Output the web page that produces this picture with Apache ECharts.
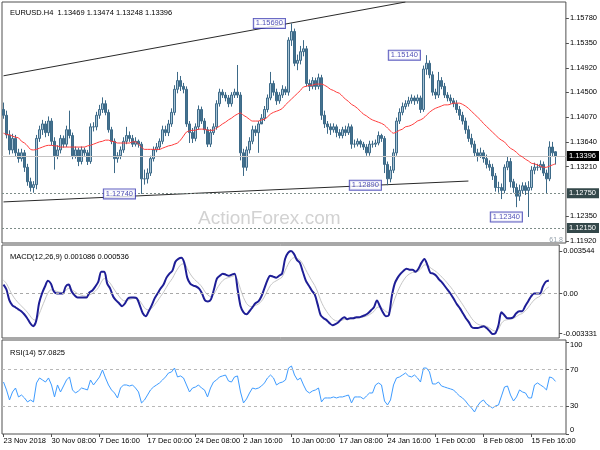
<!DOCTYPE html>
<html><head><meta charset="utf-8">
<script src="https://cdn.jsdelivr.net/npm/echarts@6/dist/echarts.min.js"></script>
<style>html,body{margin:0;padding:0;background:#fff}#c{width:600px;height:450px}</style>
</head><body><div id="c"></div>
<script>
// ---- tick labels ----
const tickLabels = ['23 Nov 2018','30 Nov 08:00','7 Dec 16:00','17 Dec 00:00','24 Dec 08:00','2 Jan 16:00','10 Jan 00:00','17 Jan 08:00','24 Jan 16:00','1 Feb 00:00','8 Feb 08:00','15 Feb 16:00'];
const priceTicks = [1.1578, 1.1535, 1.1492, 1.1450, 1.1407, 1.1364, 1.1321, 1.1235, 1.1192];
const macdTicks = [0.003544, 0, -0.003331];
const rsiTicks = [0, 30, 70, 100];

// ---- EURUSD H4 candles (one candle per two H4 bars) ----
const priceOpen = [
1.1420,1.1410,1.1376,1.1350,1.1370,1.1345,1.1335,1.1345,1.1320,1.1295,1.1285,1.1290,1.1370,1.1385,1.1395,1.1380,
1.1400,1.1365,1.1340,1.1350,1.1370,1.1360,1.1385,1.1375,1.1340,1.1350,1.1330,1.1350,1.1345,1.1330,1.1390,1.1390,
1.1410,1.1420,1.1430,1.1415,1.1385,1.1365,1.1335,1.1340,1.1350,1.1365,1.1375,1.1370,1.1360,1.1365,1.1360,1.1300,
1.1300,1.1310,1.1335,1.1350,1.1355,1.1365,1.1385,1.1380,1.1395,1.1415,1.1455,1.1470,1.1460,1.1455,1.1395,1.1380,
1.1370,1.1390,1.1420,1.1400,1.1385,1.1360,1.1380,1.1390,1.1430,1.1450,1.1445,1.1440,1.1430,1.1445,1.1450,1.1445,
1.1345,1.1320,1.1350,1.1365,1.1385,1.1380,1.1395,1.1405,1.1420,1.1440,1.1465,1.1450,1.1435,1.1445,1.1455,1.1450,
1.1540,1.1555,1.1500,1.1505,1.1520,1.1525,1.1465,1.1460,1.1470,1.1460,1.1475,1.1410,1.1395,1.1390,1.1385,1.1390,
1.1380,1.1375,1.1385,1.1380,1.1390,1.1360,1.1360,1.1365,1.1360,1.1355,1.1345,1.1360,1.1360,1.1362,1.1375,1.1370,
1.1325,1.1300,1.1315,1.1345,1.1400,1.1415,1.1425,1.1430,1.1435,1.1440,1.1435,1.1440,1.1420,1.1490,1.1500,1.1480,
1.1450,1.1445,1.1470,1.1460,1.1445,1.1440,1.1435,1.1430,1.1420,1.1410,1.1400,1.1385,1.1370,1.1360,1.1345,1.1340,
1.1345,1.1335,1.1325,1.1320,1.1305,1.1285,1.1285,1.1280,1.1320,1.1330,1.1295,1.1285,1.1270,1.1280,1.1288,1.1280,
1.1285,1.1315,1.1320,1.1320,1.1325,1.1310,1.1300,1.1355,1.13469];
const priceClose = [
1.1410,1.1376,1.1350,1.1370,1.1345,1.1335,1.1345,1.1320,1.1295,1.1285,1.1290,1.1370,1.1385,1.1395,1.1380,1.1400,
1.1365,1.1340,1.1350,1.1370,1.1360,1.1385,1.1375,1.1340,1.1350,1.1330,1.1350,1.1345,1.1330,1.1390,1.1390,1.1410,
1.1420,1.1430,1.1415,1.1385,1.1365,1.1335,1.1340,1.1350,1.1365,1.1375,1.1370,1.1360,1.1365,1.1360,1.1300,1.1300,
1.1310,1.1335,1.1350,1.1355,1.1365,1.1385,1.1380,1.1395,1.1415,1.1455,1.1470,1.1460,1.1455,1.1395,1.1380,1.1370,
1.1390,1.1420,1.1400,1.1385,1.1360,1.1380,1.1390,1.1430,1.1450,1.1445,1.1440,1.1430,1.1445,1.1450,1.1445,1.1345,
1.1320,1.1350,1.1365,1.1385,1.1380,1.1395,1.1405,1.1420,1.1440,1.1465,1.1450,1.1435,1.1445,1.1455,1.1450,1.1540,
1.1555,1.1500,1.1505,1.1520,1.1525,1.1465,1.1460,1.1470,1.1460,1.1475,1.1410,1.1395,1.1390,1.1385,1.1390,1.1380,
1.1375,1.1385,1.1380,1.1390,1.1360,1.1360,1.1365,1.1360,1.1355,1.1345,1.1360,1.1360,1.1362,1.1375,1.1370,1.1325,
1.1300,1.1315,1.1345,1.1400,1.1415,1.1425,1.1430,1.1435,1.1440,1.1435,1.1440,1.1420,1.1490,1.1500,1.1480,1.1450,
1.1445,1.1470,1.1460,1.1445,1.1440,1.1435,1.1430,1.1420,1.1410,1.1400,1.1385,1.1370,1.1360,1.1345,1.1340,1.1345,
1.1335,1.1325,1.1320,1.1305,1.1285,1.1285,1.1280,1.1320,1.1330,1.1295,1.1285,1.1270,1.1280,1.1288,1.1280,1.1285,
1.1315,1.1320,1.1320,1.1325,1.1310,1.1300,1.1355,1.1345,1.13396];
const priceLow = [
1.1404,1.1370,1.1342,1.1344,1.1338,1.1328,1.1330,1.1312,1.1288,1.1278,1.1276,1.1282,1.1364,1.1376,1.1372,1.1374,
1.1358,1.1316,1.1334,1.1344,1.1354,1.1355,1.1370,1.1334,1.1335,1.1322,1.1325,1.1340,1.1324,1.1326,1.1382,1.1384,
1.1404,1.1414,1.1410,1.1380,1.1360,1.1310,1.1328,1.1334,1.1345,1.1360,1.1364,1.1355,1.1356,1.1354,1.1274,1.1290,
1.1292,1.1305,1.1330,1.1346,1.1350,1.1360,1.1374,1.1374,1.1390,1.1410,1.1448,1.1452,1.1448,1.1390,1.1362,1.1362,
1.1365,1.1385,1.1395,1.1378,1.1355,1.1355,1.1376,1.1385,1.1425,1.1440,1.1434,1.1424,1.1425,1.1440,1.1440,1.1332,
1.1305,1.1314,1.1344,1.1360,1.1374,1.1345,1.1398,1.1400,1.1415,1.1436,1.1444,1.1428,1.1430,1.1440,1.1445,1.1444,
1.1530,1.1495,1.1488,1.1498,1.1512,1.1460,1.1452,1.1455,1.1454,1.1455,1.1402,1.1388,1.1378,1.1376,1.1380,1.1372,
1.1370,1.1370,1.1374,1.1376,1.1352,1.1354,1.1356,1.1354,1.1350,1.1340,1.1340,1.1354,1.1355,1.1358,1.1364,1.1310,
1.1289,1.1294,1.1310,1.1340,1.1395,1.1410,1.1420,1.1425,1.1430,1.1428,1.1430,1.1414,1.1416,1.1480,1.1474,1.1444,
1.1438,1.1440,1.1455,1.1440,1.1434,1.1430,1.1424,1.1414,1.1402,1.1394,1.1378,1.1364,1.1354,1.1338,1.1330,1.1336,
1.1328,1.1318,1.1314,1.1298,1.1278,1.1276,1.1265,1.1275,1.1315,1.1285,1.1276,1.1251,1.1262,1.1275,1.1272,1.1234,
1.1280,1.1308,1.1314,1.1315,1.1305,1.1275,1.1296,1.1338,1.13248];
const priceHigh = [
1.1432,1.1418,1.1384,1.1378,1.1376,1.1352,1.1352,1.1350,1.1326,1.1302,1.1296,1.1376,1.1392,1.1402,1.1400,1.1408,
1.1405,1.1372,1.1358,1.1376,1.1375,1.1392,1.1418,1.1380,1.1356,1.1354,1.1356,1.1354,1.1350,1.1396,1.1398,1.1416,
1.1428,1.1441,1.1436,1.1420,1.1390,1.1370,1.1346,1.1356,1.1372,1.1390,1.1382,1.1376,1.1372,1.1368,1.1364,1.1316,
1.1318,1.1340,1.1356,1.1362,1.1370,1.1392,1.1392,1.1402,1.1422,1.1462,1.1485,1.1478,1.1466,1.1460,1.1400,1.1388,
1.1396,1.1427,1.1425,1.1405,1.1390,1.1386,1.1396,1.1436,1.1456,1.1455,1.1450,1.1445,1.1450,1.1456,1.1497,1.1450,
1.1352,1.1356,1.1372,1.1392,1.1392,1.1400,1.1412,1.1426,1.1446,1.1485,1.1470,1.1456,1.1450,1.1462,1.1460,1.1545,
1.1569,1.1560,1.1515,1.1530,1.1540,1.1530,1.1472,1.1476,1.1475,1.1482,1.1480,1.1418,1.1400,1.1396,1.1396,1.1394,
1.1386,1.1390,1.1392,1.1396,1.1394,1.1368,1.1370,1.1368,1.1364,1.1360,1.1366,1.1366,1.1368,1.1382,1.1378,1.1374,
1.1330,1.1322,1.1352,1.1406,1.1422,1.1432,1.1436,1.1442,1.1446,1.1444,1.1446,1.1444,1.1496,1.1514,1.1505,1.1486,
1.1456,1.1485,1.1476,1.1466,1.1450,1.1446,1.1440,1.1436,1.1426,1.1416,1.1406,1.1392,1.1378,1.1366,1.1352,1.1354,
1.1350,1.1342,1.1332,1.1326,1.1310,1.1295,1.1292,1.1325,1.1338,1.1336,1.1300,1.1292,1.1290,1.1294,1.1294,1.1296,
1.1322,1.1328,1.1326,1.1332,1.1330,1.1316,1.1365,1.1364,1.13474];
// moving average (red)
const maValues = [
1.1379,1.1377,1.1376,1.1374,1.1372,1.1371,1.1365,1.1362,1.1357,1.1351,1.1350,1.1351,1.1353,1.1355,1.1357,1.1358,
1.1358,1.1357,1.1357,1.1355,1.1355,1.1355,1.1355,1.1355,1.1355,1.1355,1.1355,1.1355,1.1357,1.1358,1.1360,1.1362,
1.1364,1.1365,1.1367,1.1367,1.1365,1.1364,1.1362,1.1362,1.1362,1.1362,1.1362,1.1364,1.1364,1.1360,1.1355,1.1351,
1.1351,1.1351,1.1351,1.1351,1.1351,1.1353,1.1355,1.1357,1.1358,1.1360,1.1362,1.1367,1.1374,1.1381,1.1383,1.1384,
1.1384,1.1386,1.1386,1.1386,1.1384,1.1384,1.1384,1.1388,1.1391,1.1395,1.1398,1.1402,1.1405,1.1409,1.1412,1.1414,
1.1410,1.1407,1.1403,1.1400,1.1400,1.1400,1.1402,1.1403,1.1407,1.1412,1.1415,1.1417,1.1419,1.1422,1.1428,1.1433,
1.1438,1.1443,1.1448,1.1453,1.1459,1.1460,1.1462,1.1462,1.1464,1.1464,1.1464,1.1462,1.1459,1.1455,1.1453,1.1450,
1.1448,1.1443,1.1438,1.1434,1.1429,1.1426,1.1422,1.1417,1.1412,1.1409,1.1405,1.1402,1.1400,1.1398,1.1396,1.1393,
1.1388,1.1383,1.1379,1.1381,1.1384,1.1386,1.1390,1.1391,1.1393,1.1396,1.1400,1.1402,1.1405,1.1410,1.1415,1.1419,
1.1422,1.1424,1.1426,1.1428,1.1428,1.1429,1.1431,1.1431,1.1431,1.1429,1.1426,1.1422,1.1417,1.1412,1.1407,1.1402,
1.1396,1.1391,1.1386,1.1381,1.1376,1.1371,1.1367,1.1364,1.1358,1.1353,1.1350,1.1346,1.1341,1.1338,1.1334,1.1331,
1.1327,1.1326,1.1324,1.1322,1.1320,1.1320,1.1322,1.1324,1.1326];
// MACD main line
const macdValues = [
0.00074,0.00033,-0.00058,-0.00099,-0.00115,-0.00132,-0.00148,-0.00173,-0.00206,-0.00247,-0.00272,-0.00231,-0.00082,0,0.00058,0.00107,
0.00082,0.00016,0,0,0,0.00058,0.00074,0.00016,-0.00016,-0.00033,-0.00033,-0.00033,-0.00033,0.00008,0.00025,0.00058,
0.00099,0.00181,0.00181,0.00082,0.00041,-0.00025,-0.00058,-0.00082,-0.00107,-0.00082,-0.00041,-0.00033,-0.00033,-0.00041,-0.00099,-0.00165,
-0.00190,-0.00148,-0.00099,-0.00041,0,0.00041,0.00074,0.00132,0.00165,0.00190,0.00264,0.00288,0.00297,0.00255,0.00132,0.00082,
0.00066,0.00058,0.00041,0,-0.00058,-0.00066,-0.00049,0.00033,0.00124,0.00148,0.00165,0.00157,0.00148,0.00157,0.00165,0.00033,
-0.00107,-0.00157,-0.00173,-0.00148,-0.00115,-0.00082,-0.00066,-0.00025,0.00041,0.00107,0.00148,0.00140,0.00132,0.00148,0.00165,0.00288,
0.00338,0.00354,0.00330,0.00280,0.00255,0.00181,0.00107,0.00066,0.00025,-0.00008,-0.00091,-0.00181,-0.00206,-0.00222,-0.00247,-0.00264,
-0.00255,-0.00239,-0.00214,-0.00198,-0.00214,-0.00206,-0.00206,-0.00198,-0.00198,-0.00190,-0.00181,-0.00165,-0.00140,-0.00115,-0.00058,-0.00107,
-0.00157,-0.00190,-0.00181,-0.00025,0.00082,0.00132,0.00165,0.00190,0.00206,0.00198,0.00198,0.00181,0.00206,0.00255,0.00288,0.00239,
0.00173,0.00165,0.00148,0.00115,0.00091,0.00058,0.00025,-0.00008,-0.00049,-0.00091,-0.00124,-0.00165,-0.00206,-0.00239,-0.00280,-0.00288,
-0.00288,-0.00280,-0.00272,-0.00288,-0.00313,-0.00338,-0.00330,-0.00264,-0.00157,-0.00181,-0.00206,-0.00206,-0.00198,-0.00165,-0.00148,-0.00148,
-0.00107,-0.00066,-0.00025,0,0,0,0.00058,0.00099,0.001086];
// MACD signal line
const signalValues = [
0.00110,0.00083,0.00034,-0.00013,-0.00049,-0.00078,-0.00103,-0.00128,-0.00155,-0.00187,-0.00217,-0.00222,-0.00173,-0.00112,-0.00052,0.00004,
0.00031,0.00026,0.00017,0.00011,0.00007,0.00025,0.00042,0.00033,0.00016,-0.00001,-0.00012,-0.00019,-0.00024,-0.00013,0.00000,0.00020,
0.00048,0.00095,0.00125,0.00110,0.00086,0.00047,0.00010,-0.00022,-0.00052,-0.00063,-0.00055,-0.00047,-0.00042,-0.00042,-0.00062,-0.00098,
-0.00130,-0.00136,-0.00123,-0.00094,-0.00061,-0.00025,0.00010,0.00053,0.00092,0.00126,0.00174,0.00214,0.00243,0.00247,0.00207,0.00163,
0.00129,0.00104,0.00082,0.00053,0.00014,-0.00014,-0.00026,-0.00005,0.00040,0.00078,0.00108,0.00125,0.00133,0.00141,0.00149,0.00108,
0.00033,-0.00034,-0.00083,-0.00106,-0.00109,-0.00100,-0.00088,-0.00066,-0.00029,0.00019,0.00064,0.00091,0.00105,0.00120,0.00136,0.00189,
0.00241,0.00281,0.00298,0.00292,0.00279,0.00245,0.00197,0.00151,0.00107,0.00067,0.00012,-0.00056,-0.00109,-0.00149,-0.00183,-0.00211,
-0.00226,-0.00231,-0.00225,-0.00216,-0.00215,-0.00212,-0.00210,-0.00206,-0.00203,-0.00198,-0.00192,-0.00183,-0.00168,-0.00149,-0.00117,-0.00113,
-0.00128,-0.00150,-0.00161,-0.00113,-0.00045,0.00017,0.00069,0.00111,0.00144,0.00163,0.00175,0.00177,0.00187,0.00211,0.00238,0.00238,
0.00215,0.00198,0.00181,0.00158,0.00135,0.00108,0.00079,0.00049,0.00015,-0.00022,-0.00058,-0.00095,-0.00134,-0.00171,-0.00209,-0.00237,
-0.00255,-0.00264,-0.00267,-0.00274,-0.00288,-0.00306,-0.00314,-0.00297,-0.00248,-0.00225,-0.00218,-0.00214,-0.00208,-0.00193,-0.00177,-0.00167,
-0.00146,-0.00118,-0.00085,-0.00055,-0.00036,-0.00023,0.00005,0.00038,0.000536];
// RSI(14)
const rsiValues = [
56.4,47.8,36.9,45.6,49.9,40.2,42.3,39.1,34.8,36.9,34.8,55.4,60.8,58.6,56.4,60.8,
53.2,40.2,53.2,45.6,52.1,58.6,61.9,47.8,44.5,46.7,49.9,48.9,47.8,58.6,53.2,57.5,
61.9,69.5,60.8,53.2,47.8,44.5,39.1,49.9,53.2,53.2,52.1,53.2,49.9,45.6,33.7,36.9,
42.3,47.8,51.0,53.2,55.4,58.6,61.9,66.2,67.3,71.6,61.9,63.0,60.8,53.2,45.6,49.9,
51.0,53.2,49.9,47.8,40.2,49.9,56.4,58.6,61.9,63.0,64.0,57.5,56.4,61.9,63.0,45.6,
33.7,38.0,44.5,49.9,48.9,49.9,52.1,55.4,60.8,64.0,60.8,53.2,55.4,56.4,58.6,71.6,
73.8,64.0,58.6,60.8,53.2,46.7,44.5,46.7,47.8,49.9,34.8,39.1,39.1,39.1,40.2,39.1,
40.2,40.2,41.3,42.3,33.7,40.2,40.2,40.2,38.0,41.3,44.5,44.5,53.2,55.4,53.2,35.8,
31.5,36.9,53.2,60.8,61.9,64.0,66.2,63.0,61.9,64.0,60.8,56.4,71.6,71.6,67.3,54.3,
54.3,56.4,52.1,51.0,49.9,48.9,47.8,44.5,41.3,39.1,35.8,31.5,28.2,23.9,30.4,34.8,
36.9,32.6,30.4,28.2,30.4,31.5,41.3,51.0,52.1,42.3,35.8,40.2,47.8,45.6,44.5,39.1,
39.1,53.2,55.4,53.2,51.0,47.8,61.9,60.8,57.0825];
// trend lines (category index, price)
const upperTrend = [[0, 1.14783], [134, 1.1606]];
const lowerTrend = [[0, 1.12601], [155, 1.12962]];
// swing annotations
const swingIndex = [96, 141, 46, 128, 175];
const swingPrice = [1.15690, 1.15140, 1.12740, 1.12890, 1.12340];
// horizontal levels
const levelValues = [1.13396, 1.12750, 1.12150];
const rsiLevels = [70, 30];

const slotCount = 188;
const cats = Array.from({length: slotCount}, (_, i) => String(i));
const F = '"Liberation Sans", Arial, sans-serif';
const candleData = priceOpen.map((o, i) => [o, priceClose[i], priceLow[i], priceHigh[i]]);
const showTick = (idx) => idx % 16 === 0 && idx / 16 < tickLabels.length;

const chart = echarts.init(document.getElementById('c'), null, {renderer: 'canvas'});
const gridBase = {left: 2, width: 564, show: true, borderColor: '#505050', borderWidth: 1, backgroundColor: '#fff'};
const xAxes = [0, 1, 2].map(g => ({
  type: 'category', gridIndex: g, data: cats, boundaryGap: true,
  axisLine: {show: false},
  axisTick: {show: g === 2, interval: showTick, alignWithLabel: true, length: 3, lineStyle: {color: '#505050'}},
  axisLabel: {show: g === 2, interval: showTick, formatter: (v, idx) => tickLabels[idx / 16], align: 'left',
    fontSize: 7.5, color: '#000', fontFamily: F, margin: 3},
  splitLine: {show: false}
}));
const yBase = {type: 'value', position: 'right', splitLine: {show: false}, axisLine: {show: false}, scale: true};
const labelStyle = {fontSize: 7.5, color: '#000', fontFamily: F, margin: 4};

const option = {
  animation: false,
  backgroundColor: '#fff',
  title: [
    {text: 'EURUSD.H4  1.13469 1.13474 1.13248 1.13396', left: 5, top: 4, textStyle: {fontSize: 7.5, fontWeight: 'normal', color: '#000', fontFamily: F}},
    {text: 'MACD(12,26,9) 0.001086 0.000536', left: 5, top: 248, textStyle: {fontSize: 7.5, fontWeight: 'normal', color: '#000', fontFamily: F}},
    {text: 'RSI(14) 57.0825', left: 5, top: 344, textStyle: {fontSize: 7.5, fontWeight: 'normal', color: '#000', fontFamily: F}},
    {text: 'ActionForex.com', left: 193, top: 204, z: 0, textStyle: {fontSize: 19, fontWeight: 'normal', color: '#d2d2d2', fontFamily: F}}
  ],
  grid: [
    Object.assign({top: 2, height: 241}, gridBase),
    Object.assign({top: 245, height: 93}, gridBase),
    Object.assign({top: 340, height: 94}, gridBase)
  ],
  xAxis: xAxes,
  yAxis: [
    Object.assign({}, yBase, {gridIndex: 0, min: 1.1189, max: 1.1606,
      axisTick: {show: true, length: 3, customValues: priceTicks, lineStyle: {color: '#505050'}},
      axisLabel: Object.assign({customValues: priceTicks, formatter: v => v.toFixed(5)}, labelStyle)}),
    Object.assign({}, yBase, {gridIndex: 1, min: -0.003709, max: 0.004038,
      axisTick: {show: true, length: 3, customValues: macdTicks, lineStyle: {color: '#505050'}},
      axisLabel: Object.assign({customValues: macdTicks, formatter: v => v === 0 ? '0.00' : v.toFixed(6)}, labelStyle)}),
    Object.assign({}, yBase, {gridIndex: 2, min: 0, max: 102,
      axisTick: {show: true, length: 3, customValues: rsiTicks, lineStyle: {color: '#505050'}},
      axisLabel: Object.assign({customValues: rsiTicks, verticalAlignMinLabel: 'bottom',
        formatter: v => v === 100 ? '{t|100}' : String(v),
        rich: {t: {fontSize: 7.5, color: '#000', fontFamily: F, padding: [7, 0, 0, 0]}}}, labelStyle)})
  ],
  series: [
    {type: 'line', name: 'upper', xAxisIndex: 0, yAxisIndex: 0, data: upperTrend, symbol: 'none',
      lineStyle: {color: '#2a2a2a', width: 1}, z: 3, silent: true},
    {type: 'line', name: 'lower', xAxisIndex: 0, yAxisIndex: 0, data: lowerTrend, symbol: 'none',
      lineStyle: {color: '#2a2a2a', width: 1}, z: 3, silent: true},
    {type: 'candlestick', name: 'EURUSD', xAxisIndex: 0, yAxisIndex: 0, data: candleData,
      barWidth: 2,
      itemStyle: {color: '#a8c4d6', color0: '#44728f', borderColor: '#3d6a88', borderColor0: '#3d6a88', borderWidth: 1},
      z: 4,
      markLine: {symbol: 'none', silent: true, precision: 5,
        label: {position: 'end', distance: 1, color: '#fff', fontSize: 7.5, fontFamily: F, padding: [1, 3, 1, 2],
          formatter: p => p.value.toFixed(5)},
        data: [
          {yAxis: levelValues[0], lineStyle: {color: '#c4c4c4', type: 'solid', width: 1}, label: {backgroundColor: '#000'}},
          {yAxis: levelValues[1], lineStyle: {color: '#7d8c88', type: [2, 2], width: 1}, label: {backgroundColor: '#34484a'}},
          {yAxis: levelValues[2], lineStyle: {color: '#7d8c88', type: [2, 2], width: 1}, label: {backgroundColor: '#34484a'}}
        ]}},
    {type: 'line', name: 'MA', xAxisIndex: 0, yAxisIndex: 0, data: maValues, symbol: 'none', smooth: 0.3,
      lineStyle: {color: '#ff3b3b', width: 1}, z: 5},
    {type: 'scatter', name: 'swings', xAxisIndex: 0, yAxisIndex: 0,
      data: swingIndex.map((x, i) => [x, swingPrice[i]]), symbolSize: 1, itemStyle: {color: 'rgba(0,0,0,0)'}, z: 8,
      label: {show: true, position: 'left', distance: 6, formatter: p => p.value[1].toFixed(5),
        color: '#1c1ca0', fontSize: 7.5, fontFamily: F, backgroundColor: '#fff', borderColor: '#3434b0', borderWidth: 1, padding: [1, 2, 0, 2]}},
    {type: 'scatter', name: 'fib', xAxisIndex: 0, yAxisIndex: 0, data: [[187, 1.1194]], symbolSize: 1,
      itemStyle: {color: 'rgba(0,0,0,0)'},
      label: {show: true, position: 'left', distance: 1, formatter: '61.8', color: '#7a8a96', fontSize: 7, fontFamily: F}},
    {type: 'line', name: 'Signal', xAxisIndex: 1, yAxisIndex: 1, data: signalValues, symbol: 'none', smooth: 0.3,
      lineStyle: {color: '#c6c6c6', width: 1}, z: 3,
      markLine: {symbol: 'none', silent: true, label: {show: false},
        lineStyle: {color: '#a8a8a8', type: [3, 3], width: 1}, data: [{yAxis: 0}]}},
    {type: 'line', name: 'MACD', xAxisIndex: 1, yAxisIndex: 1, data: macdValues, symbol: 'none', smooth: 0.3,
      lineStyle: {color: '#1e1e96', width: 2}, z: 4},
    {type: 'line', name: 'RSI', xAxisIndex: 2, yAxisIndex: 2, data: rsiValues, symbol: 'none',
      lineStyle: {color: '#3d9bff', width: 1}, z: 4,
      markLine: {symbol: 'none', silent: true, label: {show: false},
        lineStyle: {color: '#b8b8b8', type: [3, 3], width: 1}, data: rsiLevels.map(v => ({yAxis: v}))}}
  ]
};
chart.setOption(option);
</script></body></html>
